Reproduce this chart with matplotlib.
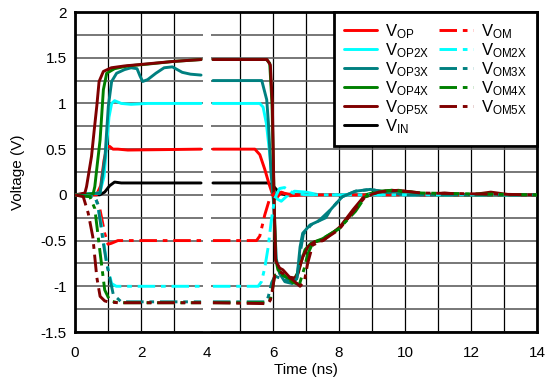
import numpy as np
import matplotlib
matplotlib.use("Agg")
import matplotlib.pyplot as plt

plt.rcParams['font.family'] = ['Liberation Sans', 'DejaVu Sans']
plt.rcParams['mathtext.fontset'] = 'custom'
plt.rcParams['mathtext.rm'] = 'Liberation Sans'
plt.rcParams['mathtext.default'] = 'regular'

# ---------------- data (time in ns, voltage in V) ----------------
# first segment (before the break) and second segment (after the break)
vin_t1 = [0, 0.75, 0.9, 1.05, 1.2, 1.4, 3.82]
vin_v1 = [0, 0.0, 0.03, 0.1, 0.14, 0.13, 0.13]
vin_t2 = [4.18, 5.85, 6.0, 6.2, 6.4, 14]
vin_v2 = [0.13, 0.13, 0.1, 0.02, 0.0, 0.0]

vop_t1 = [0, 0.65, 0.78, 0.88, 0.97, 1.05, 1.15, 1.3, 1.6, 3.82]
vop_v1 = [0, 0.0, 0.1, 0.38, 0.53, 0.53, 0.5, 0.5, 0.49, 0.5]
vop_t2 = [4.18, 5.45, 5.6, 5.75, 5.88, 5.98, 6.1, 6.25, 6.5, 7.0, 14]
vop_v2 = [0.5, 0.5, 0.44, 0.28, 0.12, 0.01, -0.04, 0.03, -0.01, 0.0, 0.0]

vom_t1 = [0, 0.6, 0.75, 0.9, 1.0, 1.1, 1.3, 3.82]
vom_v1 = [0, -0.02, -0.15, -0.42, -0.54, -0.53, -0.5, -0.5]
vom_t2 = [4.18, 5.5, 5.6, 5.75, 5.9, 6.05, 6.3, 6.6, 14]
vom_v2 = [-0.5, -0.5, -0.45, -0.22, -0.04, 0.02, 0.02, 0.0, 0.0]

vop2_t1 = [0, 0.75, 0.88, 0.96, 1.03, 1.11, 1.2, 1.4, 1.7, 2.2, 3.82]
vop2_v1 = [0, 0.02, 0.2, 0.55, 0.85, 1.0, 1.03, 1.0, 0.99, 1.0, 1.0]
vop2_t2 = [4.18, 5.6, 5.7, 5.8, 5.9, 6.0, 6.1, 6.25, 6.4, 6.65, 7.0, 7.4, 14]
vop2_v2 = [1.0, 1.0, 0.96, 0.78, 0.45, 0.08, -0.04, -0.07, -0.02, 0.04, 0.03, 0.0, 0.0]

vom2_t1 = [0, 0.6, 0.67, 0.81, 0.96, 1.11, 1.25, 3.82]
vom2_v1 = [0, -0.02, -0.09, -0.35, -0.75, -0.97, -1.0, -1.0]
vom2_t2 = [4.18, 5.55, 5.65, 5.75, 5.85, 5.95, 6.05, 6.2, 6.35, 6.6, 7.0, 14]
vom2_v2 = [-1.0, -1.0, -0.95, -0.8, -0.58, -0.28, -0.04, 0.07, 0.08, 0.02, 0.0, 0.0]

vop3_t1 = [0, 0.76, 0.91, 1.01, 1.11, 1.26, 1.5, 1.7, 1.88, 1.97, 2.05, 2.2,
           2.45, 2.7, 2.95, 3.25, 3.5, 3.82]
vop3_v1 = [0, 0.02, 0.42, 0.97, 1.24, 1.33, 1.37, 1.39, 1.38, 1.3, 1.24, 1.26,
           1.33, 1.39, 1.40, 1.34, 1.32, 1.31]
vop3_t2 = [4.18, 5.66, 5.81, 5.86, 5.94, 6.01, 6.1, 6.2, 6.36, 6.58, 6.73, 6.82,
           6.9, 7.12, 7.36, 7.6, 7.75, 8.1, 8.5, 8.95, 9.4, 10, 14]
vop3_v2 = [1.25, 1.25, 1.04, 0.79, 0.24, -0.05, -0.7, -0.86, -0.95, -0.97, -0.9, -0.57,
           -0.42, -0.33, -0.29, -0.25, -0.16, -0.02, 0.04, 0.06, 0.03, 0.0, 0.0]

vom3_t1 = [0, 0.6, 0.69, 0.85, 0.96, 1.16, 1.4, 3.82]
vom3_v1 = [0, -0.02, -0.1, -0.51, -0.75, -1.09, -1.17, -1.17]
vom3_t2 = [4.18, 5.8, 5.86, 5.96, 6.06, 6.3, 6.55, 6.72, 6.84, 6.92, 7.15, 7.4,
           7.75, 8.1, 8.5, 8.95, 9.4, 10, 14]
vom3_v2 = [-1.17, -1.17, -1.11, -0.96, -0.89, -0.92, -0.96, -0.92, -0.6, -0.43, -0.33, -0.28,
           -0.16, -0.02, 0.04, 0.06, 0.03, 0.0, 0.0]

vop4_t1 = [0, 0.55, 0.6, 0.68, 0.76, 0.86, 0.96, 1.2, 1.6, 2.2, 3.0, 3.82]
vop4_v1 = [0, 0.01, 0.09, 0.35, 0.6, 1.15, 1.33, 1.38, 1.41, 1.43, 1.46, 1.48]
vop4_t2 = [4.18, 5.8, 5.9, 5.97, 6.03, 6.08, 6.15, 6.3, 6.45, 6.6, 6.75, 6.97,
           7.15, 7.5, 8.0, 8.4, 8.8, 9.2, 9.6, 10.2, 11, 14]
vop4_v2 = [1.48, 1.48, 1.44, 1.0, 0.0, -0.7, -0.82, -0.87, -0.92, -0.95, -0.85, -0.6,
           -0.53, -0.48, -0.37, -0.2, 0.0, 0.04, 0.05, 0.02, 0.0, 0.0]

vom4_t1 = [0, 0.45, 0.6, 0.76, 0.9, 1.06, 1.3, 3.82]
vom4_v1 = [0, -0.02, -0.15, -0.63, -1.04, -1.16, -1.18, -1.18]
vom4_t2 = [4.18, 5.85, 5.92, 5.98, 6.05, 6.2, 6.4, 6.6, 6.8, 6.95, 7.05, 7.2,
           7.5, 8.0, 8.5, 8.8, 9.2, 9.6, 10, 10.5, 14]
vom4_v2 = [-1.18, -1.18, -1.14, -1.04, -0.88, -0.86, -0.9, -0.96, -0.98, -0.8, -0.65, -0.53,
           -0.48, -0.37, -0.18, -0.02, 0.03, 0.05, 0.04, 0.02, 0.0]

vop5_t1 = [0, 0.3, 0.35, 0.5, 0.58, 0.66, 0.73, 0.86, 1.1, 1.5, 2.1, 3.0, 3.82]
vop5_v1 = [0, 0.02, 0.09, 0.42, 0.7, 0.97, 1.24, 1.35, 1.39, 1.41, 1.43, 1.46, 1.48]
vop5_t2 = [4.18, 5.82, 5.92, 5.98, 6.03, 6.08, 6.2, 6.3, 6.5, 6.67, 6.76, 6.9, 7.06,
           7.27, 7.52, 8.03, 8.43, 8.73, 9.15, 9.45, 9.8, 10.2, 10.6, 11.2, 12.0, 12.6, 13.2, 14]
vop5_v2 = [1.48, 1.48, 1.42, 1.0, 0.0, -0.72, -0.8, -0.82, -0.9, -0.91, -0.86, -0.68, -0.57,
           -0.51, -0.5, -0.35, -0.16, -0.03, 0.02, 0.04, 0.05, 0.03, 0.0, 0.02, 0.0, 0.03, 0.0, 0.0]

vom5_t1 = [0, 0.25, 0.4, 0.54, 0.66, 0.76, 0.9, 1.0, 1.3, 3.82]
vom5_v1 = [0, -0.02, -0.2, -0.46, -0.9, -1.11, -1.16, -1.17, -1.18, -1.18]
vom5_t2 = [4.18, 5.85, 5.92, 5.98, 6.05, 6.2, 6.4, 6.6, 6.82, 6.95, 7.05, 7.2,
           7.5, 8.0, 8.5, 8.8, 9.2, 9.6, 10, 10.5, 14]
vom5_v2 = [-1.18, -1.19, -1.15, -1.05, -0.88, -0.84, -0.88, -0.93, -1.0, -0.95, -0.75, -0.55,
           -0.5, -0.38, -0.15, -0.02, 0.03, 0.05, 0.04, 0.02, 0.0]

x_ticks = [0, 2, 4, 6, 8, 10, 12, 14]
x_labels = ['0', '2', '4', '6', '8', '10', '12', '14']
y_ticks = [-1.5, -1, -0.5, 0, 0.5, 1, 1.5, 2]
y_labels = ['-1.5', '-1', '-0.5', '0', '0.5', '1', '1.5', '2']

# ---------------- styling ----------------
RED, CYAN, TEAL, GREEN, MAROON = '#ff0000', '#00ffff', '#008080', '#008000', '#800000'
DASH = (0, (6, 2, 1.6, 2))
LW = 2.1

fig = plt.figure(figsize=(5.46, 3.81), dpi=100)
ax = fig.add_axes([75/546, 1-332/381, (537-75)/546, (332-12)/381])


def seg(t1, v1, t2, v2):
    return (np.concatenate([t1, [np.nan], t2]),
            np.concatenate([v1, [np.nan], v2]))

solid = [
    (vop_t1, vop_v1, vop_t2, vop_v2, RED, '$V_{OP}$'),
    (vop2_t1, vop2_v1, vop2_t2, vop2_v2, CYAN, '$V_{OP2X}$'),
    (vop3_t1, vop3_v1, vop3_t2, vop3_v2, TEAL, '$V_{OP3X}$'),
    (vop4_t1, vop4_v1, vop4_t2, vop4_v2, GREEN, '$V_{OP4X}$'),
    (vop5_t1, vop5_v1, vop5_t2, vop5_v2, MAROON, '$V_{OP5X}$'),
    (vin_t1, vin_v1, vin_t2, vin_v2, 'black', '$V_{IN}$'),
]
dashed = [
    (vom_t1, vom_v1, vom_t2, vom_v2, RED, '$V_{OM}$'),
    (vom2_t1, vom2_v1, vom2_t2, vom2_v2, CYAN, '$V_{OM2X}$'),
    (vom3_t1, vom3_v1, vom3_t2, vom3_v2, TEAL, '$V_{OM3X}$'),
    (vom4_t1, vom4_v1, vom4_t2, vom4_v2, GREEN, '$V_{OM4X}$'),
    (vom5_t1, vom5_v1, vom5_t2, vom5_v2, MAROON, '$V_{OM5X}$'),
]

# draw VIN first (under), then others
draw_order = [5, 0, 1, 2, 3, 4]
h_solid = [None] * len(solid)
for i in draw_order:
    t1, v1, t2, v2, c, lab = solid[i]
    t, v = seg(t1, v1, t2, v2)
    h_solid[i], = ax.plot(t, v, color=c, lw=LW, label=lab, zorder=3,
                          solid_joinstyle='round', solid_capstyle='round')
h_dash = []
for t1, v1, t2, v2, c, lab in dashed:
    t, v = seg(t1, v1, t2, v2)
    h, = ax.plot(t, v, color=c, lw=LW, ls=DASH, label=lab, zorder=3)
    h_dash.append(h)

ax.set_xlim(0, 14)
ax.set_ylim(-1.5, 2)
ax.set_xticks(x_ticks)
ax.set_xticklabels(x_labels)
ax.set_yticks(y_ticks)
ax.set_yticklabels(y_labels)
ax.set_xticks(np.arange(0, 15, 1), minor=True)
ax.set_yticks(np.arange(-1.5, 2.01, 0.25), minor=True)
ax.tick_params(which='both', length=0, labelsize=11, colors='black')
ax.tick_params(axis='x', pad=10)
ax.tick_params(axis='y', pad=6)
ax.set_axisbelow(True)
ax.grid(which='both', axis='x', color='black', lw=0.9)
ax.grid(which='both', axis='y', color='#606060', lw=1.2)
# break in the time axis
ax.axvspan(3.89, 4.11, color='white', zorder=1, lw=0)

for s in ax.spines.values():
    s.set_linewidth(2)
    s.set_color('black')

ax.set_xlabel('Time (ns)', fontsize=11, labelpad=2)
ax.set_ylabel('Voltage (V)', fontsize=11, labelpad=11)

leg = ax.legend(handles=h_solid + h_dash, ncol=2, loc='upper right',
                bbox_to_anchor=(1.0, 1.0), borderaxespad=0, fontsize=12,
                frameon=True, fancybox=False, framealpha=1, edgecolor='black',
                handlelength=2.0, handletextpad=0.5, columnspacing=0.6,
                labelspacing=0.02, borderpad=0.6)
leg.get_frame().set_linewidth(2)
leg.set_zorder(10)

fig.savefig('out.png', dpi=100)
